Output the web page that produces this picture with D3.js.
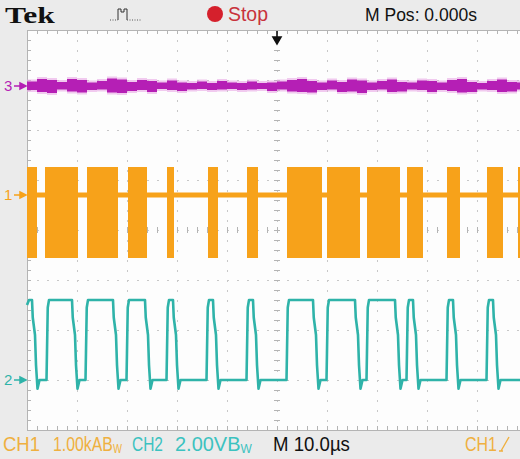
<!DOCTYPE html>
<html>
<head>
<meta charset="utf-8">
<script src="https://cdnjs.cloudflare.com/ajax/libs/d3/7.8.5/d3.min.js"></script>
<style>
  body { margin:0; background:#fff; }
  #scope { width:520px; height:459px; }
</style>
</head>
<body>
<div id="scope"></div>
<script>
// time axis in microseconds (10 us/div), trigger at 0
const timeTicks = d3.range(-50, 51, 10);
const divTicks = d3.range(-4, 5, 1);

// channel positions in divisions
const ch1Pos = 0.7, ch2Pos = -3.0, ch3Pos = 2.88;
const ch1Scale = 1.0;   // kA / div
const ch2Scale = 2.0;   // V / div

// CH1 bursts [start us, end us]
const ch1Bursts = [[-50,-48],[-46.4,-39.8],[-38,-31.8],[-29.8,-26],[-22,-20.6],[-13.8,-11.8],
  [-6,-3.8],[2,9],[10,16.6],[18,24.6],[26,29.2],[34,36.6],[42,45.2],[48.2,48.8]];
const ch1Peak = 0.56, ch1Trough = -1.26;   // kA

// CH2 high periods [rise us, fall us]
const ch2High = [[-50,-49],[-46,-41],[-38.2,-32.8],[-30,-26.4],[-22,-20.8],[-14,-12.8],
  [-6,-4.8],[2,7.2],[10,15.6],[18,23.6],[26,27.2],[34,35.2],[42,43.2]];
const ch2Hi = 3.2, ch2Lo = 0;   // V

// CH3 noise band half widths (div), every 2 us from -50 to 50
const ch3Up = [0.09,0.14,0.12,0.08,0.14,0.12,0.07,0.10,0.15,0.13,0.08,0.12,0.10,0.07,0.11,0.07,0.06,0.09,0.06,0.10,
  0.07,0.06,0.09,0.06,0.07,0.09,0.12,0.14,0.10,0.07,0.11,0.08,0.13,0.11,0.07,0.10,0.13,0.08,0.07,0.11,
  0.10,0.07,0.12,0.14,0.08,0.06,0.10,0.13,0.08,0.07,0.07];
const ch3Down = [0.08,0.12,0.14,0.07,0.11,0.13,0.08,0.07,0.13,0.14,0.10,0.08,0.12,0.06,0.08,0.10,0.07,0.06,0.08,0.07,
  0.06,0.08,0.07,0.06,0.10,0.07,0.11,0.12,0.13,0.08,0.07,0.12,0.11,0.14,0.08,0.07,0.12,0.11,0.07,0.08,
  0.12,0.08,0.10,0.13,0.12,0.07,0.08,0.12,0.11,0.07,0.08];

const W = 520, H = 459;
const x = d3.scaleLinear().domain([-50, 50]).range([27, 527]);
const y = d3.scaleLinear().domain([-4, 4]).range([430, 30]);

const svg = d3.select("#scope").append("svg").attr("width", W).attr("height", H);
const font = "'Liberation Sans', Arial, sans-serif";

// squeeze a text to the narrow scope font width
function label(tx, ty, w, size, col, str, sub, fam, weight) {
  const g = svg.append("g");
  const t = g.append("text").attr("font-family", fam || font).attr("font-size", size)
    .attr("font-weight", weight || "normal").attr("fill", col).text(str);
  if (sub) {
    t.append("tspan").text("B");
    t.append("tspan").attr("font-size", size * 0.6).attr("dy", 2).text("W");
  }
  const bw = t.node().getBBox().width;
  g.attr("transform", "translate(" + tx + "," + ty + ") scale(" + (w / bw) + ",1)");
  return g;
}

// backgrounds
svg.append("rect").attr("width", W).attr("height", H).attr("fill", "#ebebeb");
svg.append("rect").attr("x", x(-50)).attr("y", y(4)).attr("width", W - x(-50)).attr("height", y(-4) - y(4)).attr("fill", "#fdfdfd");

// graticule
const grid = svg.append("g").attr("stroke", "#c8c8c8").attr("stroke-width", 1);
grid.selectAll(".v").data(timeTicks).enter().append("line")
  .attr("x1", d => x(d) + 0.5).attr("x2", d => x(d) + 0.5).attr("y1", y(4)).attr("y2", y(-4))
  .attr("stroke-dasharray", "2,8");
grid.selectAll(".h").data(divTicks).enter().append("line")
  .attr("y1", d => y(d) + 0.5).attr("y2", d => y(d) + 0.5).attr("x1", x(-50)).attr("x2", W)
  .attr("stroke-dasharray", "2,8");

// minor ticks on centre lines and edges
const minorT = d3.range(-50, 51, 2);
const minorD = d3.range(-4, 4.01, 0.2);
const tk = svg.append("g").attr("stroke", "#b4b4b4").attr("stroke-width", 1);
tk.selectAll(".ct").data(minorT).enter().append("line")
  .attr("x1", d => x(d) + 0.5).attr("x2", d => x(d) + 0.5).attr("y1", y(0) - 3).attr("y2", y(0) + 3);
tk.selectAll(".cd").data(minorD).enter().append("line")
  .attr("y1", d => y(d) + 0.5).attr("y2", d => y(d) + 0.5).attr("x1", x(0) - 3).attr("x2", x(0) + 3);
tk.selectAll(".tt").data(minorT).enter().append("line")
  .attr("x1", d => x(d) + 0.5).attr("x2", d => x(d) + 0.5).attr("y1", y(4)).attr("y2", y(4) + 4);
tk.selectAll(".bt").data(minorT).enter().append("line")
  .attr("x1", d => x(d) + 0.5).attr("x2", d => x(d) + 0.5).attr("y1", y(-4)).attr("y2", y(-4) - 4);
tk.selectAll(".lt").data(minorD).enter().append("line")
  .attr("y1", d => y(d) + 0.5).attr("y2", d => y(d) + 0.5).attr("x1", x(-50)).attr("x2", x(-50) + 4);
tk.append("line").attr("x1", x(-50)).attr("x2", W).attr("y1", y(4) + 0.5).attr("y2", y(4) + 0.5);
tk.append("line").attr("x1", x(-50)).attr("x2", W).attr("y1", y(-4) + 0.5).attr("y2", y(-4) + 0.5);
tk.append("line").attr("x1", x(-50) + 0.5).attr("x2", x(-50) + 0.5).attr("y1", y(4)).attr("y2", y(-4));

// CH3 (magenta noise band)
const ch3Col = "#b51fb5";
const tSteps = d3.range(-50, 51, 2);
const ch3Data = tSteps.map((t, i) => ({t, up: ch3Up[i], dn: ch3Down[i]}));
svg.append("path").datum(ch3Data)
  .attr("fill", "#e9a8e6").attr("opacity", 0.6)
  .attr("d", d3.area().x(d => x(d.t)).y0(d => y(ch3Pos - d.dn - 0.04)).y1(d => y(ch3Pos + d.up + 0.04)).curve(d3.curveStepAfter));
svg.append("path").datum(ch3Data)
  .attr("fill", ch3Col)
  .attr("d", d3.area().x(d => x(d.t)).y0(d => y(ch3Pos - d.dn)).y1(d => y(ch3Pos + d.up)).curve(d3.curveStepAfter));

// CH1 (orange bursts)
const ch1Col = "#f7a21a";
svg.append("line").attr("x1", x(-50)).attr("x2", W)
  .attr("y1", y(ch1Pos)).attr("y2", y(ch1Pos))
  .attr("stroke", ch1Col).attr("stroke-width", 5);
svg.append("g").selectAll("rect").data(ch1Bursts).enter().append("rect")
  .attr("x", d => x(d[0])).attr("width", d => x(d[1]) - x(d[0]))
  .attr("y", y(ch1Pos + ch1Peak / ch1Scale))
  .attr("height", y(ch1Pos + ch1Trough / ch1Scale) - y(ch1Pos + ch1Peak / ch1Scale))
  .attr("fill", ch1Col);

// CH2 (teal logic signal)
const ch2Col = "#2fb3a9";
const pts = [];
ch2High.forEach((h, i) => {
  const [r, f] = h;
  if (i > 0) { pts.push([r - 0.1, ch2Lo]); pts.push([r + 0.15, ch2Hi - 0.3]); }
  else pts.push([r, ch2Hi - 0.2]);
  pts.push([r + 0.4, ch2Hi]);
  pts.push([f, ch2Hi]);
  pts.push([f + 0.15, ch2Hi - 0.7]);
  pts.push([f + 0.6, 1.8]);
  pts.push([f + 0.8, 0.6]);
  pts.push([f + 1.1, -0.35]);
  pts.push([f + 1.5, ch2Lo]);
});
pts.push([50, ch2Lo]);
svg.append("path").datum(pts)
  .attr("fill", "none").attr("stroke", ch2Col).attr("stroke-width", 2.6).attr("stroke-linejoin", "round")
  .attr("d", d3.line().x(d => x(d[0])).y(d => y(ch2Pos + d[1] / ch2Scale)));

// channel markers
const markers = [{n:"3", p:ch3Pos, c:ch3Col}, {n:"1", p:ch1Pos, c:ch1Col}, {n:"2", p:ch2Pos, c:ch2Col}];
const mk = svg.append("g").selectAll("g").data(markers).enter().append("g")
  .attr("transform", d => "translate(0," + y(d.p) + ")");
mk.append("text").attr("x", 4).attr("y", 5).attr("font-family", font).attr("font-size", 15)
  .attr("fill", d => d.c).text(d => d.n);
mk.append("path").attr("d", "M14,0 H22 M20,-3 L26,0 L20,3 Z").attr("stroke", d => d.c).attr("fill", d => d.c).attr("stroke-width", 1.5);

// top bar
label(5, 23, 50, 23, "#111", "Tek", false, "'Liberation Serif', 'DejaVu Serif', serif", "bold");
svg.append("path").attr("d", "M118,20 V9 H121 V12 H124 V9 H127 V20")
  .attr("fill", "none").attr("stroke", "#333").attr("stroke-width", 1);
svg.append("path").attr("d", "M127,20 H142").attr("stroke", "#555").attr("stroke-dasharray", "1,1.5");
svg.append("path").attr("d", "M110,20 H118").attr("stroke", "#555").attr("stroke-dasharray", "1,1.5");
svg.append("circle").attr("cx", 215).attr("cy", 14).attr("r", 8).attr("fill", "#d5202c");
label(228, 21, 40, 20, "#c8323c", "Stop");
label(365, 21, 112, 19, "#111", "M Pos: 0.000s");

// trigger position arrow
svg.append("path").attr("d", "M" + x(0) + ",31 V39 M" + (x(0) - 4) + ",37 L" + x(0) + ",44 L" + (x(0) + 4) + ",37 Z")
  .attr("stroke", "#111").attr("stroke-width", 1.6).attr("fill", "#111");

// bottom bar
const ch1Txt = "#efb040", ch2Txt = "#3cc2c0";
label(3, 451, 37, 21, ch1Txt, "CH1");
label(53, 451, 69, 21, ch1Txt, "1.00kA", true);
label(132, 451, 31, 21, ch2Txt, "CH2");
label(175, 451, 77, 21, ch2Txt, "2.00V", true);
label(273, 451, 77, 21, "#111", "M 10.0\u00b5s");
label(465, 451, 32, 21, ch1Txt, "CH1");
svg.append("path").attr("d", "M501,451 L509,437 M499,451 H503").attr("stroke", ch1Txt).attr("stroke-width", 1.4).attr("fill", "none");
</script>
</body>
</html>
